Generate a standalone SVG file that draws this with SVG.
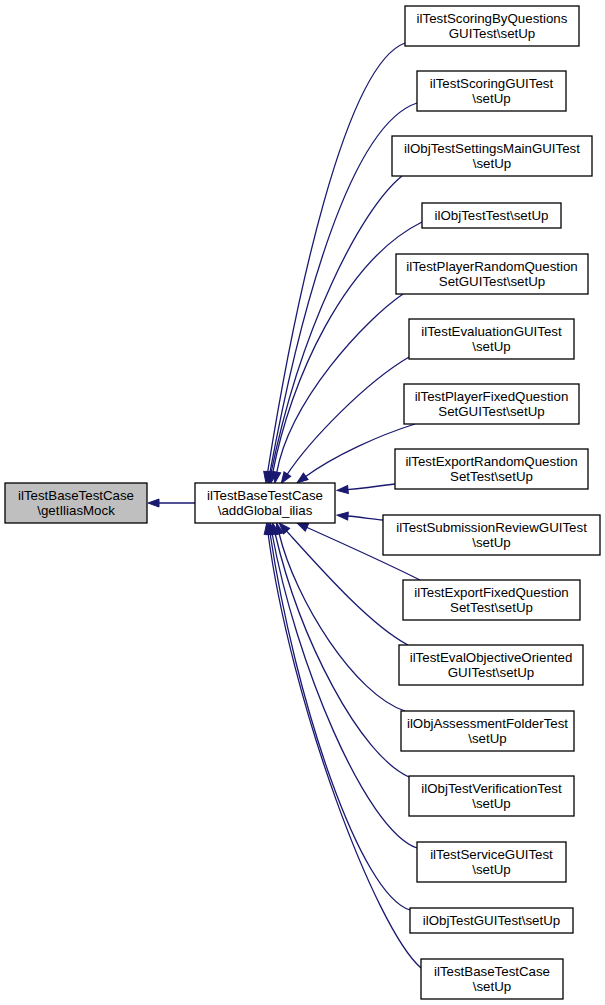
<svg xmlns="http://www.w3.org/2000/svg" width="605" height="1005" viewBox="0 0 605 1005">
<style>
.n rect{fill:#ffffff;stroke:#000000;stroke-width:1.3}
.n.h rect{fill:#bfbfbf}
.n text{font-family:"Liberation Sans",Arial,Helvetica,sans-serif;font-size:13.3px;fill:#000000;text-anchor:middle}
.e path{fill:none;stroke:#191970;stroke-width:1.3;marker-end:url(#ah)}
</style>
<defs>
<marker id="ah" markerUnits="userSpaceOnUse" markerWidth="14" markerHeight="10" refX="1" refY="0" viewBox="0 -5 14 10" orient="auto" overflow="visible">
<path d="M0,-4 L11,0 L0,4 z" fill="#191970" stroke="#191970" stroke-width="1"/>
</marker>
</defs>
<rect width="605" height="1005" fill="#ffffff"/>
<g id="edges" class="e">
<path d="M195,503 L158,503"/>
<path d="M405,43 C345,65 295,300 267.5,473"/>
<path d="M417,103 C350,125 300,310 269.8,473.2"/>
<path d="M402,176 C360,210 300,330 271,473.2"/>
<path d="M422,222 C345,260 290,380 272.7,473.2"/>
<path d="M403,294 C365,320 290,400 276.6,473.1"/>
<path d="M409,357 C365,383 310,440 286.8,474.9"/>
<path d="M415,424 C380,435 335,455 305,477"/>
<path d="M395,484 C380,486 365,488 347,489.6"/>
<path d="M383,520 C372,519 360,517 347,516"/>
<path d="M420,580 C390,565 335,540 306,527"/>
<path d="M408,645 C370,625 320,568 286,530.4"/>
<path d="M405,711 C355,695 295,600 279,533"/>
<path d="M409,777 C360,755 300,640 275,533"/>
<path d="M417,848 C365,830 295,660 272,533"/>
<path d="M410,910 C360,895 295,700 270,533"/>
<path d="M421,968 C375,928 290,700 268,533"/>
</g>
<g id="node-getIliasMock" class="n h"><rect x="5" y="483" width="142" height="40"/><text x="76" y="499.5">ilTestBaseTestCase</text><text x="76" y="514.5">\getIliasMock</text></g>
<g id="node-addGlobal" class="n"><rect x="195" y="483" width="140" height="40"/><text x="265" y="499.5">ilTestBaseTestCase</text><text x="265" y="514.5">\addGlobal_ilias</text></g>
<g id="node1" class="n"><rect x="405" y="6" width="174" height="40"/><text x="492" y="22.5">ilTestScoringByQuestions</text><text x="492" y="37.5">GUITest\setUp</text></g>
<g id="node2" class="n"><rect x="417" y="71" width="149" height="40"/><text x="491.5" y="87.5">ilTestScoringGUITest</text><text x="491.5" y="102.5">\setUp</text></g>
<g id="node3" class="n"><rect x="392" y="136" width="200" height="40"/><text x="492" y="152.5">ilObjTestSettingsMainGUITest</text><text x="492" y="167.5">\setUp</text></g>
<g id="node4" class="n"><rect x="422" y="203" width="139" height="25"/><text x="491.5" y="220">ilObjTestTest\setUp</text></g>
<g id="node5" class="n"><rect x="396" y="254" width="192" height="40"/><text x="492" y="270.5">ilTestPlayerRandomQuestion</text><text x="492" y="285.5">SetGUITest\setUp</text></g>
<g id="node6" class="n"><rect x="409" y="319" width="165" height="40"/><text x="491.5" y="335.5">ilTestEvaluationGUITest</text><text x="491.5" y="350.5">\setUp</text></g>
<g id="node7" class="n"><rect x="404" y="384" width="175" height="40"/><text x="491.5" y="400.5">ilTestPlayerFixedQuestion</text><text x="491.5" y="415.5">SetGUITest\setUp</text></g>
<g id="node8" class="n"><rect x="395" y="449" width="193" height="40"/><text x="491.5" y="465.5">ilTestExportRandomQuestion</text><text x="491.5" y="480.5">SetTest\setUp</text></g>
<g id="node9" class="n"><rect x="383" y="515" width="217" height="40"/><text x="491.5" y="531.5">ilTestSubmissionReviewGUITest</text><text x="491.5" y="546.5">\setUp</text></g>
<g id="node10" class="n"><rect x="403" y="580" width="177" height="40"/><text x="491.5" y="596.5">ilTestExportFixedQuestion</text><text x="491.5" y="611.5">SetTest\setUp</text></g>
<g id="node11" class="n"><rect x="399" y="645" width="184" height="40"/><text x="491" y="661.5">ilTestEvalObjectiveOriented</text><text x="491" y="676.5">GUITest\setUp</text></g>
<g id="node12" class="n"><rect x="401" y="711" width="173" height="40"/><text x="487.5" y="727.5">ilObjAssessmentFolderTest</text><text x="487.5" y="742.5">\setUp</text></g>
<g id="node13" class="n"><rect x="409" y="776" width="165" height="40"/><text x="491.5" y="792.5">ilObjTestVerificationTest</text><text x="491.5" y="807.5">\setUp</text></g>
<g id="node14" class="n"><rect x="417" y="842" width="149" height="40"/><text x="491.5" y="858.5">ilTestServiceGUITest</text><text x="491.5" y="873.5">\setUp</text></g>
<g id="node15" class="n"><rect x="410" y="908" width="163" height="25"/><text x="491.5" y="925">ilObjTestGUITest\setUp</text></g>
<g id="node16" class="n"><rect x="421" y="959" width="142" height="40"/><text x="492" y="975.5">ilTestBaseTestCase</text><text x="492" y="990.5">\setUp</text></g>
</svg>
